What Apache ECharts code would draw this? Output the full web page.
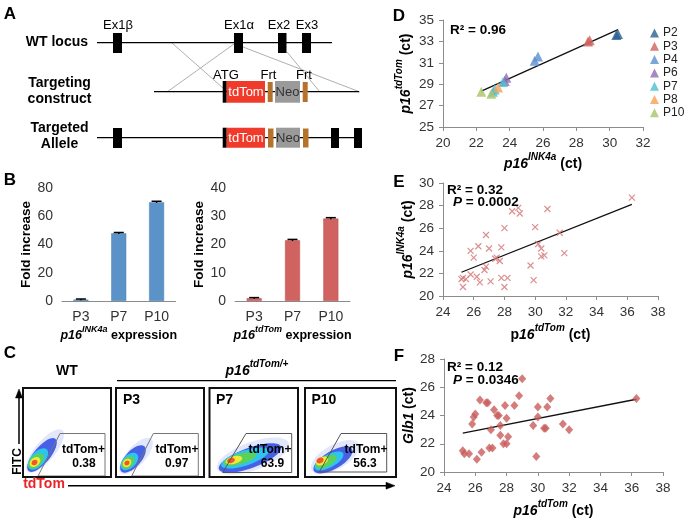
<!DOCTYPE html>
<html>
<head>
<meta charset="utf-8">
<script src="https://cdn.jsdelivr.net/npm/echarts@6.0.0/dist/echarts.min.js"></script>
<style>
html, body { margin: 0; padding: 0; background: #fff; }
#main { width: 687px; height: 519px; }
</style>
</head>
<body>
<div id="main"></div>
<script>
var F = '"Liberation Sans", Arial, Helvetica, sans-serif';

// B: fold increase by passage
var passages = ['P3', 'P7', 'P10'];
var ink4aFold = [1, 48, 70];
var ink4aErr = [0.4, 0.5, 0.6];
var tdTomFold = [1, 21.5, 29.2];
var tdTomErr = [0.2, 0.3, 0.3];

// C: flow gates
var flowPanels = ['WT', 'P3', 'P7', 'P10'];
var gatePct = ['0.38', '0.97', '63.9', '56.3'];

// D: p16INK4a ct vs p16tdTom ct, by passage
var dNames = ['P2', 'P3', 'P4', 'P6', 'P7', 'P8', 'P10'];
var dP2 = [[30.4, 33.6], [30.5, 33.7]];
var dP3 = [[28.7, 33.0], [28.8, 33.1]];
var dP4 = [[25.5, 31.2], [25.7, 31.6]];
var dP6 = [[23.7, 29.3], [23.8, 29.6]];
var dP7 = [[23.0, 28.3], [23.1, 28.5], [23.6, 29.2]];
var dP8 = [[23.3, 28.7]];
var dP10 = [[22.3, 28.3], [22.9, 28.1]];
var dFit = [[22.3, 28.35], [30.5, 34.1]];

// E: p16tdTom ct vs p16INK4a ct
var ePoints = [[28.5, 27.5], [28.9, 27.8], [29.0, 27.3], [30.8, 27.7], [26.8, 25.4], [28.0, 26.0],
  [30.0, 26.1], [25.8, 24.0], [26.3, 24.4], [27.0, 24.2], [27.8, 24.3], [26.0, 23.4], [27.4, 23.3],
  [27.5, 23.4], [27.7, 23.1], [26.8, 22.6], [26.7, 22.3], [25.8, 21.9], [26.2, 21.7], [25.3, 21.6],
  [25.5, 21.5], [25.2, 21.5], [25.3, 20.8], [26.4, 21.2], [27.1, 21.3], [27.8, 21.6], [28.2, 21.6],
  [28.0, 20.8], [29.7, 22.7], [29.9, 21.4], [30.2, 24.6], [30.4, 24.2], [30.4, 23.5], [30.6, 23.6],
  [31.6, 25.6], [31.9, 23.8], [36.3, 28.7]];
var eFit = [[25.2, 22.1], [36.3, 28.1]];

// F: p16tdTom ct vs Glb1 ct
var fPoints = [[29.0, 26.6], [26.3, 25.1], [26.7, 24.9], [26.8, 24.9], [28.8, 25.4], [27.9, 24.7],
  [28.5, 24.7], [30.0, 24.6], [30.6, 24.6], [30.8, 25.2], [27.2, 24.4], [27.4, 24.0], [27.5, 24.0],
  [28.0, 23.8], [25.9, 23.9], [26.0, 24.1], [25.8, 23.4], [27.0, 23.0], [27.6, 23.3], [28.1, 22.5],
  [27.6, 22.6], [27.8, 22.0], [28.0, 22.0], [26.9, 21.7], [27.1, 21.7], [26.4, 21.4], [26.1, 20.9],
  [25.2, 21.5], [25.3, 21.3], [25.6, 21.3], [29.9, 21.1], [29.7, 23.3], [30.0, 23.9], [30.4, 23.1],
  [30.5, 23.1], [31.6, 23.4], [32.0, 23.0], [36.3, 25.2]];
var fFit = [[25.2, 22.75], [36.3, 25.15]];

var dColors = ['#2a5f92', '#d0615d', '#5b8fd0', '#8e6bb0', '#4bc0d2', '#f7a054', '#a9c46a'];
var AX = '#8c8c8c';

function rich(size, sup) {
  return {
    i: { fontFamily: F, fontSize: size, fontWeight: 'bold', fontStyle: 'italic', color: '#000', lineHeight: size + 5, verticalAlign: 'bottom' },
    s: { fontFamily: F, fontSize: sup, fontWeight: 'bold', fontStyle: 'italic', color: '#000', lineHeight: sup + 2, verticalAlign: 'top' },
    n: { fontFamily: F, fontSize: size, fontWeight: 'bold', color: '#000', lineHeight: size + 5, verticalAlign: 'bottom' }
  };
}

function axis(gi, extra) {
  var a = {
    gridIndex: gi,
    axisLine: { lineStyle: { color: AX } },
    axisTick: { length: 4, lineStyle: { color: AX } },
    axisLabel: { color: '#333', fontSize: 13.5, fontFamily: F, margin: 9 },
    splitLine: { show: false },
    nameLocation: 'middle'
  };
  return Object.assign(a, extra);
}

function errorBars(idx, vals, errs) {
  return {
    type: 'custom', xAxisIndex: idx, yAxisIndex: idx, z: 5, silent: true,
    data: vals.map(function (v, i) { return [i, v - errs[i], v + errs[i]]; }),
    renderItem: function (params, api) {
      var lo = api.coord([api.value(0), api.value(1)]);
      var hi = api.coord([api.value(0), api.value(2)]);
      var st = { stroke: '#000', lineWidth: 1.5 };
      return { type: 'group', children: [
        { type: 'line', shape: { x1: hi[0], y1: hi[1], x2: lo[0], y2: lo[1] }, style: st },
        { type: 'line', shape: { x1: hi[0] - 5, y1: hi[1], x2: hi[0] + 5, y2: hi[1] }, style: st }
      ] };
    }
  };
}

function fitLine(idx, pts) {
  return { type: 'line', xAxisIndex: idx, yAxisIndex: idx, data: pts, symbol: 'none', silent: true,
    lineStyle: { color: '#111', width: 1.3 }, z: 3 };
}

// ---------- graphic (schematic, flow panels, labels) ----------
var g = [];
function txt(x, y, s, font, opt) {
  opt = opt || {};
  g.push({ type: 'text', x: x, y: y, rotation: opt.rot || 0, z: 50,
    style: { text: s, font: font, fill: opt.fill || '#000', align: opt.align || 'center',
      verticalAlign: 'middle', rich: opt.rich } });
}
function box(x, y, w, h, fill) {
  g.push({ type: 'rect', shape: { x: x, y: y, width: w, height: h }, style: { fill: fill }, z: 20 });
}
function ln(x1, y1, x2, y2, stroke, w) {
  g.push({ type: 'line', shape: { x1: x1, y1: y1, x2: x2, y2: y2 }, style: { stroke: stroke, lineWidth: w }, z: 10 });
}
function poly(pts, stroke, w, fill) {
  g.push({ type: 'polygon', shape: { points: pts }, style: { stroke: stroke, lineWidth: w, fill: fill || 'none' }, z: 30 });
}

var BOLD14 = 'bold 14px ' + F;
var REG13 = '13px ' + F;

// panel letters
txt(10, 14, 'A', 'bold 17px ' + F);
txt(10, 180, 'B', 'bold 17px ' + F);
txt(10, 353, 'C', 'bold 17px ' + F);
txt(399, 16, 'D', 'bold 17px ' + F);
txt(399, 182, 'E', 'bold 17px ' + F);
txt(399, 356, 'F', 'bold 17px ' + F);

// A: locus schematic
var RED = '#f03a2a', FRT = '#b5722d', NEO = '#9a9a9a';
ln(172, 43, 223, 88, '#b0b0b0', 1);
ln(234, 44, 167, 92, '#b0b0b0', 1);
ln(243, 47, 360, 92, '#b0b0b0', 1);
ln(287, 52, 320, 92, '#b0b0b0', 1);

txt(88, 42.5, 'WT locus', BOLD14, { align: 'right' });
ln(97, 42.7, 332, 42.7, '#000', 1.3);
box(113, 33, 9, 20, '#000');
box(234, 33, 9, 20, '#000');
box(278, 33, 8.5, 20, '#000');
box(302, 33, 9, 20, '#000');
txt(118, 25, 'Ex1β', REG13);
txt(239, 25, 'Ex1α', REG13);
txt(279, 25, 'Ex2', REG13);
txt(307, 25, 'Ex3', REG13);

txt(59.5, 83, 'Targeting', BOLD14);
txt(59.5, 99, 'construct', BOLD14);
ln(154, 91.7, 359, 91.7, '#000', 1.3);
box(222.7, 81, 4, 21.7, '#000');
box(226.7, 81, 38.3, 21.7, RED);
txt(246, 92, 'tdTom', REG13, { fill: '#fff' });
box(267.7, 82, 5, 20, FRT);
box(275, 81, 25, 21.7, NEO);
txt(287.5, 92, 'Neo', REG13, { fill: '#333' });
box(302.7, 82, 5, 20, FRT);
txt(226, 75, 'ATG', REG13);
txt(268.5, 75, 'Frt', REG13);
txt(304, 75, 'Frt', REG13);

txt(59.5, 128, 'Targeted', BOLD14);
txt(59.5, 144, 'Allele', BOLD14);
ln(97, 137.7, 359, 137.7, '#000', 1.3);
box(113, 128, 9, 20, '#000');
box(222.7, 127.7, 4, 20, '#000');
box(226.7, 127.7, 38.3, 20, RED);
txt(246, 138, 'tdTom', REG13, { fill: '#fff' });
box(268, 128.5, 5.5, 19, FRT);
box(276, 127.7, 24, 20, NEO);
txt(288, 138, 'Neo', REG13, { fill: '#333' });
box(303, 128.5, 5.5, 19, FRT);
box(331, 128, 8, 20, '#000');
box(354, 128, 8, 20, '#000');

// C: flow cytometry panels (density drawn as layered ellipses)
var layerColors = ['#7088f2', '#2040e0', '#2ec4ee', '#5ad25a', '#eeea3c', '#f0582a'];
var blobs = [
  [[45, 451, 27, 10, 50, 0.2], [42, 455, 21, 8, 50, 0.8], [38, 459, 13, 7, 48, 1], [36, 461, 9.5, 5.5, 45, 1], [35, 462, 6, 4.2, 40, 1], [34.5, 462.5, 3.2, 2.6, 40, 1]],
  [[136, 456, 23, 9.5, 48, 0.2], [133, 459, 17, 8, 48, 0.8], [129.5, 461.5, 10.5, 6.5, 45, 1], [128, 462.5, 7.5, 5, 42, 1], [127, 463, 4.8, 3.8, 40, 1], [127, 463, 2.8, 2.3, 40, 1]],
  [[253, 456, 38, 14, 20, 0.2], [250, 458, 33, 10, 20, 0.8], [245, 458, 25, 7.5, 18, 1], [240, 459, 17, 5.2, 16, 1], [234, 460, 8.5, 3.8, 15, 1], [231, 460.5, 4, 2.5, 15, 1]],
  [[335, 457, 27, 12, 30, 0.2], [333, 460, 22, 9, 30, 0.8], [329, 461, 16, 6.5, 28, 1], [326, 461.5, 11.5, 5.2, 26, 1], [322, 461, 6.5, 3.8, 25, 1], [320, 460.5, 3.8, 2.8, 25, 1]]
];
blobs.forEach(function (set) {
  set.forEach(function (b, k) {
    g.push({ type: 'ellipse', x: b[0], y: b[1], rotation: b[4] * Math.PI / 180, z: 15,
      shape: { cx: 0, cy: 0, rx: b[2], ry: b[3] }, style: { fill: layerColors[k], opacity: b[5] } });
  });
});

var boxes = [[23, 88], [116, 88], [209.5, 88.5], [305, 91]];
boxes.forEach(function (b) {
  g.push({ type: 'rect', shape: { x: b[0], y: 388, width: b[1], height: 89 }, z: 40,
    style: { fill: 'none', stroke: '#111', lineWidth: 2 } });
});
poly([[38, 476], [60, 433.5], [105, 433.5], [105, 476]], '#777', 1);
poly([[131.7, 476], [153.3, 433.5], [198.3, 433.5], [198.3, 476]], '#777', 1);
poly([[222.7, 472.5], [246, 433.5], [291.7, 433.5], [291.7, 472.5]], '#555', 1);
poly([[319.3, 472], [341, 433.5], [386.7, 433.5], [386.7, 472]], '#555', 1);

var gateText = [[83.5, 84], [177, 176.7], [270, 272.5], [366, 365]];
gateText.forEach(function (p, i) {
  txt(p[0], 450, 'tdTom+', 'bold 12px ' + F);
  txt(p[1], 463.5, gatePct[i], 'bold 12px ' + F);
});
txt(67, 371, flowPanels[0], BOLD14);
txt(123, 400, flowPanels[1], 'bold 14px ' + F, { align: 'left' });
txt(216, 400, flowPanels[2], 'bold 14px ' + F, { align: 'left' });
txt(311.5, 400, flowPanels[3], 'bold 14px ' + F, { align: 'left' });
txt(257, 369, '{i|p16}{s|tdTom/+}', BOLD14, { rich: rich(14, 10) });
ln(117, 380.7, 396, 380.7, '#000', 1.3);

// axes arrows of flow plots
ln(19, 397, 19, 444, '#000', 1.5);
poly([[19, 389], [15.5, 398], [22.5, 398]], '#000', 0.5, '#000');
txt(17.5, 461.5, 'FITC', 'bold 12px ' + F, { rot: Math.PI / 2 });
txt(44, 484.5, 'tdTom', 'bold 14px ' + F, { fill: '#e8262a' });
ln(68, 485.7, 387, 485.7, '#000', 1.5);
poly([[395, 485.7], [386, 482.2], [386, 489.2]], '#000', 0.5, '#000');

// D/E/F statistics
txt(450, 30, 'R² = 0.96', 'bold 13.5px ' + F, { align: 'left' });
txt(447, 190, 'R² = 0.32', 'bold 13.5px ' + F, { align: 'left' });
txt(453, 202.5, '{pi|P} = 0.0002', 'bold 13.5px ' + F, { align: 'left', rich: { pi: { fontStyle: 'italic', fontWeight: 'bold', fontSize: 13.5, fontFamily: F } } });
txt(447, 367, 'R² = 0.12', 'bold 13.5px ' + F, { align: 'left' });
txt(453, 380, '{pi|P} = 0.0346', 'bold 13.5px ' + F, { align: 'left', rich: { pi: { fontStyle: 'italic', fontWeight: 'bold', fontSize: 13.5, fontFamily: F } } });

// ---------- option ----------
var dSets = [dP2, dP3, dP4, dP6, dP7, dP8, dP10];
var series = [
  { type: 'bar', xAxisIndex: 0, yAxisIndex: 0, data: ink4aFold, barWidth: 15,
    itemStyle: { color: '#5b93c8', borderColor: '#4a80b4', borderWidth: 0.5 } },
  errorBars(0, ink4aFold, ink4aErr),
  { type: 'bar', xAxisIndex: 1, yAxisIndex: 1, data: tdTomFold, barWidth: 15,
    itemStyle: { color: '#d0625f', borderColor: '#b85350', borderWidth: 0.5 } },
  errorBars(1, tdTomFold, tdTomErr)
];
dSets.forEach(function (d, i) {
  series.push({ name: dNames[i], type: 'scatter', xAxisIndex: 2, yAxisIndex: 2, data: d,
    symbol: 'triangle', symbolSize: 10, itemStyle: { color: dColors[i] }, z: 4 });
});
series.push(fitLine(2, dFit));
series.push({ type: 'scatter', xAxisIndex: 3, yAxisIndex: 3, data: ePoints,
  symbol: 'path://M0,0L10,10M10,0L0,10', symbolSize: 6,
  itemStyle: { color: 'rgba(0,0,0,0)', borderColor: '#d27474', borderWidth: 1.2 }, z: 4 });
series.push(fitLine(3, eFit));
series.push({ type: 'scatter', xAxisIndex: 4, yAxisIndex: 4, data: fPoints,
  symbol: 'diamond', symbolSize: [8, 9], itemStyle: { color: '#c95d5c' }, z: 4 });
series.push(fitLine(4, fFit));

var option = {
  animation: false,
  backgroundColor: '#fff',
  textStyle: { fontFamily: F },
  grid: [
    { left: 62, top: 188, width: 113.5, height: 113, outerBoundsMode: 'none' },
    { left: 235, top: 188, width: 115, height: 113, outerBoundsMode: 'none' },
    { left: 443, top: 20, width: 200, height: 107, outerBoundsMode: 'none' },
    { left: 443, top: 183, width: 215, height: 113, outerBoundsMode: 'none' },
    { left: 444, top: 359, width: 219, height: 113, outerBoundsMode: 'none' }
  ],
  legend: {
    data: dNames, orient: 'vertical', left: 650, top: 27, icon: 'triangle',
    itemWidth: 9, itemHeight: 9, itemGap: 1.3, padding: 0, selectedMode: false,
    textStyle: { fontFamily: F, fontSize: 12, lineHeight: 9, color: '#222', padding: [0, 0, 0, -1] }
  },
  xAxis: [
    axis(0, { type: 'category', data: passages, axisLabel: { color: '#333', fontSize: 14, fontFamily: F, margin: 9 },
      name: '{i|p16}{s|INK4a}{n| expression}', nameGap: 23, nameTextStyle: { rich: rich(12.5, 9) } }),
    axis(1, { type: 'category', data: passages, axisLabel: { color: '#333', fontSize: 14, fontFamily: F, margin: 9 },
      name: '{i|p16}{s|tdTom}{n| expression}', nameGap: 23, nameTextStyle: { rich: rich(12.5, 9) } }),
    axis(2, { type: 'value', min: 20, max: 32, interval: 2,
      name: '{i|p16}{s|INK4a}{n| (ct)}', nameGap: 25, nameTextStyle: { rich: rich(14, 10) } }),
    axis(3, { type: 'value', min: 24, max: 38, interval: 2,
      name: '{n|p}{i|16}{s|tdTom}{n| (ct)}', nameGap: 27, nameTextStyle: { rich: rich(14, 10) } }),
    axis(4, { type: 'value', min: 24, max: 38, interval: 2,
      name: '{i|p16}{s|tdTom}{n| (ct)}', nameGap: 27, nameTextStyle: { rich: rich(14, 10) } })
  ],
  yAxis: [
    axis(0, { type: 'value', min: 0, max: 80, interval: 20, axisLabel: { color: '#333', fontSize: 14, fontFamily: F, margin: 9 },
      name: 'Fold increase', nameGap: 27, nameTextStyle: { fontFamily: F, fontSize: 13.5, fontWeight: 'bold', color: '#000' } }),
    axis(1, { type: 'value', min: 0, max: 40, interval: 10, axisLabel: { color: '#333', fontSize: 14, fontFamily: F, margin: 9 },
      name: 'Fold increase', nameGap: 27, nameTextStyle: { fontFamily: F, fontSize: 13.5, fontWeight: 'bold', color: '#000' } }),
    axis(2, { type: 'value', min: 25, max: 35, interval: 2,
      name: '{i|p16}{s|tdTom}{n| (ct)}', nameGap: 30, nameTextStyle: { rich: rich(14, 10) } }),
    axis(3, { type: 'value', min: 20, max: 30, interval: 2,
      name: '{i|p16}{s|INK4a}{n| (ct)}', nameGap: 26, nameTextStyle: { rich: rich(14, 10) } }),
    axis(4, { type: 'value', min: 20, max: 28, interval: 2,
      name: '{i|Glb1}{n| (ct)}', nameGap: 26, nameTextStyle: { rich: rich(14, 10) } })
  ],
  series: series,
  graphic: { elements: g }
};

var chart = echarts.init(document.getElementById('main'));
chart.setOption(option);
</script>
</body>
</html>
